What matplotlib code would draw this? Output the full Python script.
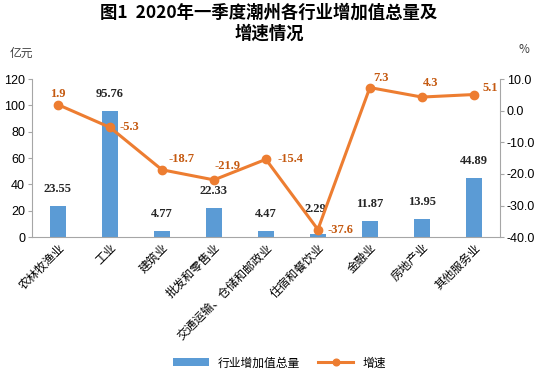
import numpy as np
import matplotlib.pyplot as plt
from matplotlib.ticker import FormatStrFormatter

plt.rcParams['font.family'] = ['Noto Sans CJK SC', 'DejaVu Sans']

# data
industries = ['农林牧渔业', '工业', '建筑业', '批发和零售业', '交通运输、仓储和邮政业',
              '住宿和餐饮业', '金融业', '房地产业', '其他服务业']
added_value = [23.55, 95.76, 4.77, 22.33, 4.47, 2.29, 11.87, 13.95, 44.89]
growth = [1.9, -5.3, -18.7, -21.9, -15.4, -37.6, 7.3, 4.3, 5.1]

# label offsets (points)
value_offsets = [(0, 8), (0, 8), (0, 8), (0, 8), (0, 8), (-2, 14), (0, 8), (0, 8), (0, 8)]
growth_offsets = [(0, 8), (14, 0), (14, 8), (10, 10), (18, 0), (16, 0), (8, 7), (6, 10), (12, 5)]

bar_color = '#5B9BD5'
line_color = '#ED7D31'
lab_color = '#C55A11'
axis_grey = '#A6A6A6'

fig = plt.figure(figsize=(5.38, 3.8), dpi=100)
ax1 = fig.add_axes([0.0595, 0.376, 0.8695, 0.416])
x = np.arange(len(industries))

ax1.bar(x, added_value, width=0.31, color=bar_color, label='行业增加值总量', zorder=2)
ax1.set_ylim(0, 120)
ax1.set_yticks(np.arange(0, 121, 20))
ax1.set_xlim(-0.5, len(industries) - 0.5)
ax1.set_xticks(x)
ax1.set_xticklabels(industries, rotation=45, ha='right', rotation_mode='anchor', fontsize=8.5)
ax1.tick_params(axis='x', length=0, pad=3)
ax1.tick_params(axis='y', length=3, color=axis_grey, labelsize=9, pad=2)
for lbl in ax1.get_yticklabels():
    lbl.set_family(['Liberation Sans', 'DejaVu Sans'])
for s in ['top', 'right']:
    ax1.spines[s].set_visible(False)
ax1.spines['left'].set_color(axis_grey)
ax1.spines['bottom'].set_color(axis_grey)

for xi, v, off in zip(x, added_value, value_offsets):
    ax1.annotate(f'{v:.2f}', (xi, v), xytext=off, textcoords='offset points',
                 ha='center', va='bottom', fontsize=9, fontweight='bold',
                 family=['Liberation Serif', 'DejaVu Serif'], color='#262626')

ax2 = ax1.twinx()
ax2.plot(x, growth, color=line_color, linewidth=2.2, marker='o', markersize=6,
         label='增速', zorder=3)
ax2.set_ylim(-40, 10)
ax2.set_yticks(np.arange(-40, 11, 10))
ax2.yaxis.set_major_formatter(FormatStrFormatter('%.1f'))
ax2.tick_params(axis='y', length=3, color=axis_grey, labelsize=9, pad=2)
for lbl in ax2.get_yticklabels():
    lbl.set_family(['Liberation Sans', 'DejaVu Sans'])
for s in ['top', 'left', 'bottom']:
    ax2.spines[s].set_visible(False)
ax2.spines['right'].set_color(axis_grey)

for xi, v, off in zip(x, growth, growth_offsets):
    ax2.annotate(f'{v:.1f}', (xi, v), xytext=off, textcoords='offset points',
                 ha='center', va='center', fontsize=9, fontweight='bold',
                 family=['Liberation Serif', 'DejaVu Serif'], color=lab_color)

fig.text(0.5, 0.94, '图1  2020年一季度潮州各行业增加值总量及\n增速情况', ha='center', va='center',
         fontsize=12.5, fontweight='bold', linespacing=1.2)
fig.text(0.04, 0.86, '亿元', ha='center', va='center', fontsize=8.5, color='#404040')
fig.text(0.973, 0.87, '%', ha='center', va='center', fontsize=8.5, color='#404040')

h1, l1 = ax1.get_legend_handles_labels()
h2, l2 = ax2.get_legend_handles_labels()
fig.legend(h1 + h2, l1 + l2, loc='center', bbox_to_anchor=(0.52, 0.045), ncol=2,
           frameon=False, fontsize=8.5, handlelength=3, columnspacing=1.5, markerscale=0.8)

fig.savefig('out.png', dpi=100)
